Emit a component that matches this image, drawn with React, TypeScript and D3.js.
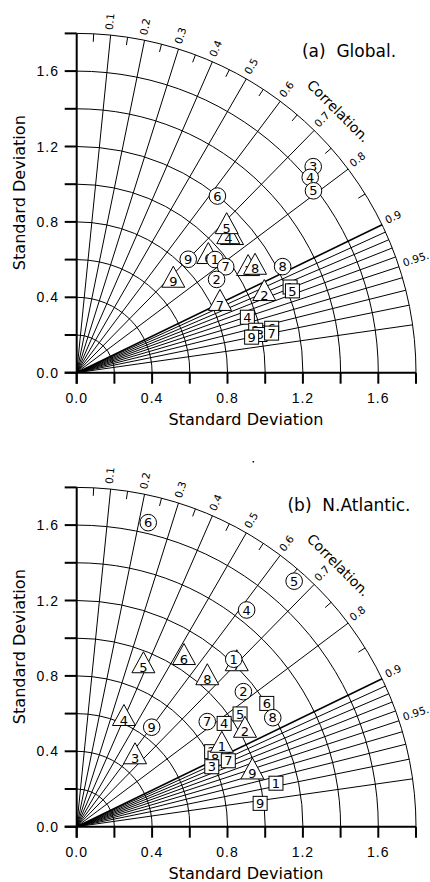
import React from 'react';
import * as d3 from 'd3';

// ---------- axis / grid values ----------
const stdTicks = [0, 0.2, 0.4, 0.6, 0.8, 1.0, 1.2, 1.4, 1.6, 1.8];
const stdArcs = [0.2, 0.4, 0.6, 0.8, 1.0, 1.2, 1.4, 1.6, 1.8];
const stdLabelValues = [0, 0.4, 0.8, 1.2, 1.6];
const stdLabels = ['0.0', '0.4', '0.8', '1.2', '1.6'];
const corrLines = [0.1, 0.2, 0.3, 0.4, 0.5, 0.6, 0.7, 0.8, 0.9];
const corrFineLines = [0.91, 0.92, 0.93, 0.94, 0.95, 0.96, 0.97, 0.98, 0.99];
const corrMinorTicks = [0.05, 0.15, 0.25, 0.35, 0.45, 0.55, 0.65, 0.75, 0.85];
const corrLabelValues = [0.1, 0.2, 0.3, 0.4, 0.5, 0.6, 0.7, 0.8, 0.9, 0.95];
const corrLabels = ['0.1', '0.2', '0.3', '0.4', '0.5', '0.6', '0.7', '0.8', '0.9', '0.95.'];

// ---------- panel (a) Global ----------
const globalCircleLabels = ['3', '4', '5', '6', '9', '1', '7', '2', '8'];
const globalCircleStd = [1.664, 1.615, 1.584, 1.198, 0.844, 0.948, 0.970, 0.892, 1.229];
const globalCircleCorr = [0.754, 0.767, 0.793, 0.623, 0.701, 0.774, 0.815, 0.832, 0.889];

const globalTriangleLabels = ['1', '4', '5', '6', '9', '7', '3', '8', '2'];
const globalTriangleStd = [1.087, 1.075, 1.105, 0.926, 0.704, 0.841, 1.060, 1.095, 1.077];
const globalTriangleCorr = [0.758, 0.748, 0.720, 0.754, 0.728, 0.904, 0.858, 0.864, 0.924];

const globalSquareLabels = ['4', '2', '6', '3', '7', '9', '1', '5'];
const globalSquareStd = [0.952, 0.976, 1.061, 0.993, 1.055, 0.947, 1.220, 1.224];
const globalSquareCorr = [0.951, 0.973, 0.975, 0.979, 0.980, 0.980, 0.928, 0.935];

// ---------- panel (b) N.Atlantic ----------
const atlCircleLabels = ['6', '5', '4', '1', '2', '8', '9', '7'];
const atlCircleStd = [1.657, 1.740, 1.461, 1.218, 1.138, 1.190, 0.661, 0.889];
const atlCircleCorr = [0.229, 0.663, 0.617, 0.684, 0.777, 0.874, 0.602, 0.779];

const atlTriangleLabels = ['5', '6', '7', '8', '4', '3', '2', '1', '9'];
const atlTriangleStd = [0.917, 1.056, 1.206, 1.045, 0.619, 0.477, 1.025, 0.879, 0.974];
const atlTriangleCorr = [0.386, 0.539, 0.704, 0.663, 0.405, 0.649, 0.871, 0.876, 0.957];

const atlSquareLabels = ['2', '8', '7', '3', '6', '5', '4', '1', '9'];
const atlSquareStd = [0.819, 0.819, 0.877, 0.784, 1.202, 1.053, 0.955, 1.082, 0.981];
const atlSquareCorr = [0.874, 0.896, 0.917, 0.914, 0.839, 0.823, 0.819, 0.977, 0.992];

type Series = { labels: string[]; std: number[]; corr: number[] };

const OX = 76.7;
const RMAX_PX = 339.3;
const r = d3.scaleLinear().domain([0, 1.8]).range([0, RMAX_PX]);

const THIN = '"DejaVu Sans", "Noto Sans", sans-serif';
const TICKFONT = '"Liberation Sans", Arial, sans-serif';

function Panel({ oy, title, circles, triangles, squares }: {
  oy: number; title: string; circles: Series; triangles: Series; squares: Series;
}) {
  const pt = (std: number, c: number) => {
    const th = Math.acos(c);
    return [OX + r(std) * Math.cos(th), oy - r(std) * Math.sin(th)];
  };
  const arcPath = (R: number) => {
    const p = d3.path();
    p.moveTo(OX + R, oy);
    p.arc(OX, oy, R, 0, -Math.PI / 2, true);
    return p.toString();
  };
  const R = r(1.8);
  const els: JSX.Element[] = [];

  // arcs
  stdArcs.forEach((s, i) => {
    els.push(<path key={'arc' + i} d={arcPath(r(s))} fill="none" stroke="#000" strokeWidth={1} />);
  });
  // radial correlation lines
  [...corrLines, ...corrFineLines].forEach((c, i) => {
    const [x, y] = pt(1.8, c);
    els.push(<line key={'cl' + i} x1={OX} y1={oy} x2={x} y2={y} stroke="#000" strokeWidth={c === 0.9 ? 1.6 : 1} />);
  });
  // minor ticks on outer arc
  corrMinorTicks.forEach((c, i) => {
    const [x1, y1] = pt(1.8, c);
    const [x2, y2] = pt(1.8 - 8 / 188.5, c);
    els.push(<line key={'mt' + i} x1={x1} y1={y1} x2={x2} y2={y2} stroke="#000" strokeWidth={1} />);
  });
  // correlation labels
  corrLabelValues.forEach((c, i) => {
    const th = Math.acos(c);
    const rr = R + 5;
    const x = OX + rr * Math.cos(th);
    const y = oy - rr * Math.sin(th);
    els.push(
      <text key={'clab' + i} x={x} y={y} dy="0.15em" fontFamily={THIN} fontSize={10.5}
        transform={`rotate(${-th * 180 / Math.PI},${x},${y})`}>{corrLabels[i]}</text>
    );
  });
  // Correlation title
  {
    const rr = 370;
    const x = OX + rr * Math.cos(Math.PI / 4);
    const y = oy - rr * Math.sin(Math.PI / 4);
    els.push(
      <text key="corrT" x={x} y={y} dy="0.35em" textAnchor="middle" fontFamily={THIN} fontSize={14}
        transform={`rotate(45,${x},${y})`}>Correlation.</text>
    );
  }
  // axes
  els.push(<line key="xax" x1={OX - 12} y1={oy} x2={OX + R} y2={oy} stroke="#000" strokeWidth={2} />);
  els.push(<line key="yax" x1={OX} y1={oy + 11} x2={OX} y2={oy - R} stroke="#000" strokeWidth={2} />);
  stdTicks.forEach((s, i) => {
    els.push(<line key={'xt' + i} x1={OX + r(s)} y1={oy} x2={OX + r(s)} y2={oy + 11} stroke="#000" strokeWidth={2} />);
    els.push(<line key={'yt' + i} x1={OX - 12} y1={oy - r(s)} x2={OX} y2={oy - r(s)} stroke="#000" strokeWidth={2} />);
  });
  stdLabelValues.forEach((s, i) => {
    els.push(<text key={'xl' + i} x={OX + r(s)} y={oy + 30} textAnchor="middle" fontFamily={TICKFONT}
      fontSize={14} letterSpacing={1}>{stdLabels[i]}</text>);
    els.push(<text key={'yl' + i} x={59} y={oy - r(s) + 5} textAnchor="end" fontFamily={TICKFONT}
      fontSize={14} letterSpacing={1}>{stdLabels[i]}</text>);
  });
  // axis titles
  els.push(<text key="xtitle" x={246} y={oy + 52} textAnchor="middle" fontFamily={THIN} fontSize={15}
    textLength={155} lengthAdjust="spacingAndGlyphs">Standard Deviation</text>);
  els.push(<text key="ytitle" x={25} y={oy - 180} textAnchor="middle" fontFamily={THIN} fontSize={15}
    textLength={155} lengthAdjust="spacingAndGlyphs" transform={`rotate(-90,25,${oy - 180})`}>Standard Deviation</text>);
  // panel title
  els.push(<text key="title" x={349} y={oy - 316} textAnchor="middle" fontFamily={THIN} fontSize={17}
    style={{ whiteSpace: 'pre' }}>{title}</text>);

  // markers: squares, triangles, circles
  const txt = (key: string, x: number, y: number, s: string) => (
    <text key={key} x={x} y={y} dy="0.36em" textAnchor="middle" fontFamily={THIN} fontSize={13}>{s}</text>
  );
  squares.labels.forEach((lab, i) => {
    const [x, y] = pt(squares.std[i], squares.corr[i]);
    els.push(<rect key={'sq' + i} x={x - 7} y={y - 7} width={14} height={14} fill="#fff" stroke="#000" strokeWidth={1} />);
    els.push(txt('sqt' + i, x, y, lab));
  });
  triangles.labels.forEach((lab, i) => {
    const [x, y] = pt(triangles.std[i], triangles.corr[i]);
    const d = `M${x},${y - 15.5}L${x - 11.5},${y + 5.5}L${x + 11.5},${y + 5.5}Z`;
    els.push(<path key={'tr' + i} d={d} fill="#fff" stroke="#000" strokeWidth={1} />);
    els.push(txt('trt' + i, x, y, lab));
  });
  circles.labels.forEach((lab, i) => {
    const [x, y] = pt(circles.std[i], circles.corr[i]);
    els.push(<circle key={'ci' + i} cx={x} cy={y} r={8.3} fill="#fff" stroke="#000" strokeWidth={1} />);
    els.push(txt('cit' + i, x, y, lab));
  });

  return <g>{els}</g>;
}

export default function App() {
  return (
    <svg width={430} height={882} style={{ position: 'absolute', left: 0, top: 0, background: '#fff' }}>
      <rect x={0} y={0} width={430} height={882} fill="#fff" />
      <Panel oy={372.7} title="(a)  Global."
        circles={{ labels: globalCircleLabels, std: globalCircleStd, corr: globalCircleCorr }}
        triangles={{ labels: globalTriangleLabels, std: globalTriangleStd, corr: globalTriangleCorr }}
        squares={{ labels: globalSquareLabels, std: globalSquareStd, corr: globalSquareCorr }} />
      <Panel oy={826.7} title="(b)  N.Atlantic."
        circles={{ labels: atlCircleLabels, std: atlCircleStd, corr: atlCircleCorr }}
        triangles={{ labels: atlTriangleLabels, std: atlTriangleStd, corr: atlTriangleCorr }}
        squares={{ labels: atlSquareLabels, std: atlSquareStd, corr: atlSquareCorr }} />
      <rect x={252.6} y={461} width={1.5} height={1.5} fill="#000" />
    </svg>
  );
}
